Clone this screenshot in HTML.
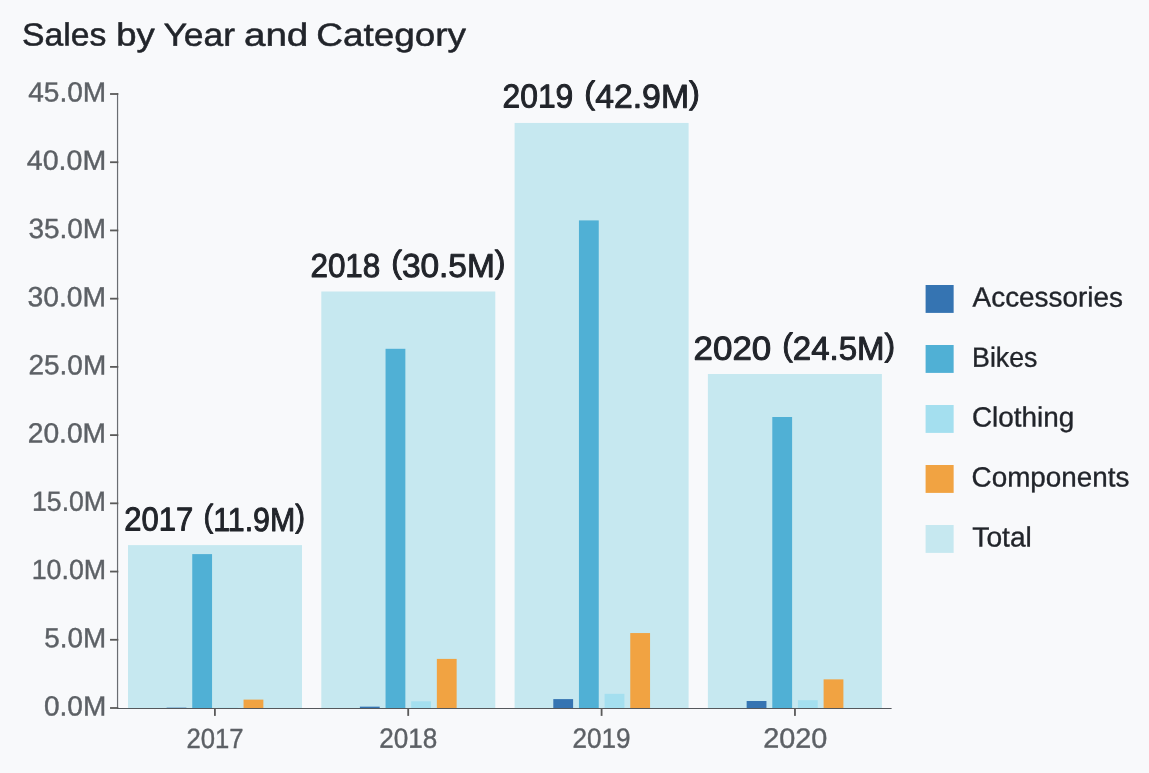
<!DOCTYPE html>
<html lang="en">
<head>
<meta charset="utf-8">
<meta name="viewport" content="width=1149, initial-scale=1">
<title>Sales by Year and Category</title>
<style>
html,body{margin:0;padding:0;background:#f8f9fb;}
body{width:1149px;height:773px;overflow:hidden;font-family:"Liberation Sans", sans-serif;}
.chart{position:relative;width:1149px;height:773px;background:#f8f9fb;}
.chart svg{display:block;position:absolute;left:0;top:0;}
text{font-family:"Liberation Sans", sans-serif;text-rendering:geometricPrecision;stroke-linejoin:round;paint-order:stroke fill;}
.title{font-size:32px;fill:#21242a;stroke:#21242a;stroke-width:0.5px;}
.ax{font-size:27.8px;fill:#5c6065;stroke:#5c6065;stroke-width:0.4px;}
.lab{font-size:33.2px;fill:#21242a;stroke:#21242a;stroke-width:0.95px;}
.leg{font-size:27.8px;fill:#21242a;stroke:#21242a;stroke-width:0.35px;}
.par{font-size:32px;}
.total{fill:#c6e8f0;} .acc{fill:#3574b2;} .bike{fill:#50b0d5;} .clo{fill:#a4dfef;} .comp{fill:#f1a342;}
.axis-y-line{fill:#6a6d72;} .axis-x-line{fill:#55585c;} .tick{fill:#5a5a5a;}
</style>
</head>
<body>
<div class="chart">
<svg width="1149" height="773" viewBox="0 0 1149 773" role="img" aria-label="Sales by Year and Category">
<rect x="0" y="0" width="1149" height="773" fill="#f8f9fb"/>
<g id="chart-title">
<text class="title" transform="rotate(0.03 245.02 45.7)" y="45.7"><tspan x="22.13" textLength="84.29" lengthAdjust="spacingAndGlyphs">Sales</tspan> <tspan x="116.17" textLength="38.46" lengthAdjust="spacingAndGlyphs">by</tspan> <tspan x="163.43" textLength="71.55" lengthAdjust="spacingAndGlyphs">Year</tspan> <tspan x="243.96" textLength="64.38" lengthAdjust="spacingAndGlyphs">and</tspan> <tspan x="316.27" textLength="149.57" lengthAdjust="spacingAndGlyphs">Category</tspan></text>
</g>
<g id="bars-total">
<rect class="total" x="128" y="545.1" width="174" height="162.9"/>
<rect class="total" x="321.3" y="291.5" width="174" height="416.5"/>
<rect class="total" x="514.6" y="122.95" width="174" height="585.05"/>
<rect class="total" x="707.9" y="374" width="174" height="334"/>
</g>
<g id="bars-category">
<g class="year-2017">
<rect class="acc" x="166.6" y="707.65" width="19.8" height="0.35"/>
<rect class="bike" x="192.25" y="554.1" width="19.8" height="153.9"/>
<rect class="clo" x="217.9" y="707.7" width="19.8" height="0.3"/>
<rect class="comp" x="243.55" y="699.6" width="19.8" height="8.4"/>
</g>
<g class="year-2018">
<rect class="acc" x="359.9" y="706.65" width="19.8" height="1.35"/>
<rect class="bike" x="385.55" y="348.8" width="19.8" height="359.2"/>
<rect class="clo" x="411.2" y="701.3" width="19.8" height="6.7"/>
<rect class="comp" x="436.85" y="658.9" width="19.8" height="49.1"/>
</g>
<g class="year-2019">
<rect class="acc" x="553.3" y="699.1" width="19.8" height="8.9"/>
<rect class="bike" x="578.95" y="220.4" width="19.8" height="487.6"/>
<rect class="clo" x="604.6" y="693.85" width="19.8" height="14.15"/>
<rect class="comp" x="630.25" y="633.05" width="19.8" height="74.95"/>
</g>
<g class="year-2020">
<rect class="acc" x="746.65" y="701" width="19.8" height="7"/>
<rect class="bike" x="772.3" y="417" width="19.8" height="291"/>
<rect class="clo" x="797.95" y="700.2" width="19.8" height="7.8"/>
<rect class="comp" x="823.6" y="679.35" width="19.8" height="28.65"/>
</g>
</g>
<g id="axis-y">
<rect class="axis-y-line" x="116.95" y="93.1" width="1.2" height="615.9"/>
<rect class="tick" x="110.05" y="93.1" width="8.25" height="1.8"/>
<rect class="tick" x="110.05" y="161.32" width="8.25" height="1.8"/>
<rect class="tick" x="110.05" y="229.54" width="8.25" height="1.8"/>
<rect class="tick" x="110.05" y="297.77" width="8.25" height="1.8"/>
<rect class="tick" x="110.05" y="365.99" width="8.25" height="1.8"/>
<rect class="tick" x="110.05" y="434.21" width="8.25" height="1.8"/>
<rect class="tick" x="110.05" y="502.43" width="8.25" height="1.8"/>
<rect class="tick" x="110.05" y="570.66" width="8.25" height="1.8"/>
<rect class="tick" x="110.05" y="638.88" width="8.25" height="1.8"/>
<rect class="tick" x="110.05" y="707.1" width="8.25" height="1.8"/>
<text class="ax" transform="rotate(0.03 66.53 101.5)" x="28.21" y="101.5" textLength="78.03" lengthAdjust="spacingAndGlyphs">45.0M</text>
<text class="ax" transform="rotate(0.03 65.85 169.72)" x="26.85" y="169.72" textLength="79.4" lengthAdjust="spacingAndGlyphs">40.0M</text>
<text class="ax" transform="rotate(0.03 66.85 237.94)" x="28.41" y="237.94" textLength="77.69" lengthAdjust="spacingAndGlyphs">35.0M</text>
<text class="ax" transform="rotate(0.03 66.6 306.17)" x="27.5" y="306.17" textLength="78.62" lengthAdjust="spacingAndGlyphs">30.0M</text>
<text class="ax" transform="rotate(0.03 67.05 374.39)" x="28.47" y="374.39" textLength="77.72" lengthAdjust="spacingAndGlyphs">25.0M</text>
<text class="ax" transform="rotate(0.03 66.75 442.61)" x="27.73" y="442.61" textLength="78.41" lengthAdjust="spacingAndGlyphs">20.0M</text>
<text class="ax" transform="rotate(0.03 69.25 510.83)" x="32.07" y="510.83" textLength="73.92" lengthAdjust="spacingAndGlyphs">15.0M</text>
<text class="ax" transform="rotate(0.03 68.95 579.06)" x="31.66" y="579.06" textLength="74.48" lengthAdjust="spacingAndGlyphs">10.0M</text>
<text class="ax" transform="rotate(0.03 74.95 647.28)" x="44.37" y="647.28" textLength="61.89" lengthAdjust="spacingAndGlyphs">5.0M</text>
<text class="ax" transform="rotate(0.03 74.75 715.5)" x="44" y="715.5" textLength="62.25" lengthAdjust="spacingAndGlyphs">0.0M</text>
</g>
<g id="axis-x">
<rect class="axis-x-line" x="116.95" y="708" width="774.65" height="1"/>
<rect class="tick" x="214" y="708" width="1.8" height="7.9"/>
<rect class="tick" x="407.3" y="708" width="1.8" height="7.9"/>
<rect class="tick" x="600.7" y="708" width="1.8" height="7.9"/>
<rect class="tick" x="794.05" y="708" width="1.8" height="7.9"/>
<text class="ax" transform="rotate(0.03 215.35 747.65)" x="186.56" y="747.65" textLength="57.05" lengthAdjust="spacingAndGlyphs">2017</text>
<text class="ax" transform="rotate(0.03 408.55 747.65)" x="379.32" y="747.65" textLength="58.04" lengthAdjust="spacingAndGlyphs">2018</text>
<text class="ax" transform="rotate(0.03 601.85 747.65)" x="572.55" y="747.65" textLength="57.96" lengthAdjust="spacingAndGlyphs">2019</text>
<text class="ax" transform="rotate(0.03 795.5 747.65)" x="763.18" y="747.65" textLength="64.11" lengthAdjust="spacingAndGlyphs">2020</text>
</g>
<g id="bar-labels">
<text class="lab" transform="rotate(0.03 214.7 530.55)" y="530.55"><tspan x="124.31" textLength="68.95" lengthAdjust="spacingAndGlyphs">2017</tspan> <tspan x="203.41" textLength="101.54" lengthAdjust="spacingAndGlyphs"><tspan class="par" dy="-3.9">(</tspan><tspan dy="3.9">11.9M</tspan><tspan class="par" dy="-3.9">)</tspan></tspan></text>
<text class="lab" transform="rotate(0.03 407.95 276.95)" y="276.95"><tspan x="310.4" textLength="69.96" lengthAdjust="spacingAndGlyphs">2018</tspan> <tspan x="391.16" textLength="114.42" lengthAdjust="spacingAndGlyphs"><tspan class="par" dy="-3.9">(</tspan><tspan dy="3.9">30.5M</tspan><tspan class="par" dy="-3.9">)</tspan></tspan></text>
<text class="lab" transform="rotate(0.03 601.35 107.65)" y="107.65"><tspan x="502.53" textLength="70.76" lengthAdjust="spacingAndGlyphs">2019</tspan> <tspan x="584.32" textLength="115.55" lengthAdjust="spacingAndGlyphs"><tspan class="par" dy="-3.9">(</tspan><tspan dy="3.9">42.9M</tspan><tspan class="par" dy="-3.9">)</tspan></tspan></text>
<text class="lab" transform="rotate(0.03 794.55 359.75)" y="359.75"><tspan x="693.64" textLength="77.65" lengthAdjust="spacingAndGlyphs">2020</tspan> <tspan x="782.21" textLength="112.86" lengthAdjust="spacingAndGlyphs"><tspan class="par" dy="-3.9">(</tspan><tspan dy="3.9">24.5M</tspan><tspan class="par" dy="-3.9">)</tspan></tspan></text>
</g>
<g id="legend">
<rect class="acc" x="925.6" y="285" width="28.05" height="27.9"/>
<text class="leg" transform="rotate(0.03 1047.62 306.6)" x="972.61" y="306.6" textLength="150.24" lengthAdjust="spacingAndGlyphs">Accessories</text>
<rect class="bike" x="925.6" y="345" width="28.05" height="27.9"/>
<text class="leg" transform="rotate(0.03 1005.65 366.7)" x="972.09" y="366.7" textLength="65.36" lengthAdjust="spacingAndGlyphs">Bikes</text>
<rect class="clo" x="925.6" y="405" width="28.05" height="27.9"/>
<text class="leg" transform="rotate(0.03 1023.15 426.5)" x="971.94" y="426.5" textLength="102.31" lengthAdjust="spacingAndGlyphs">Clothing</text>
<rect class="comp" x="925.6" y="465" width="28.05" height="27.9"/>
<text class="leg" transform="rotate(0.03 1050.9 486.5)" x="971.59" y="486.5" textLength="157.84" lengthAdjust="spacingAndGlyphs">Components</text>
<rect class="total" x="925.6" y="525" width="28.05" height="27.9"/>
<text class="leg" transform="rotate(0.03 1001.62 546.5)" x="972.34" y="546.5" textLength="59.48" lengthAdjust="spacingAndGlyphs">Total</text>
</g>
</svg>
</div>
</body>
</html>
